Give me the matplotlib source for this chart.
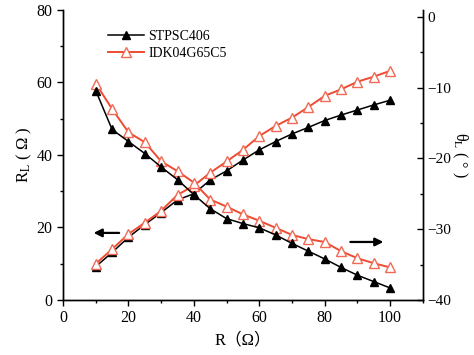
import matplotlib
matplotlib.use("Agg")
import matplotlib.pyplot as plt
from matplotlib.ticker import MultipleLocator

plt.rcParams["font.family"] = ["Liberation Serif", "Noto Sans CJK SC"]
plt.rcParams["mathtext.fontset"] = "stix"

# load resistance R (ohm)
r_vals = [10, 15, 20, 25, 30, 35, 40, 45, 50, 55, 60, 65, 70, 75, 80, 85, 90, 95, 100]

# RL (ohm), left axis
rl_stpsc = [9.2, 13.1, 17.3, 20.8, 24.1, 27.6, 29.3, 33.1, 35.6, 38.6, 41.4, 43.7, 45.8,
            47.6, 49.5, 51.0, 52.4, 53.8, 55.1]
rl_idk = [10.0, 14.0, 18.2, 21.3, 24.6, 29.0, 31.5, 35.1, 38.2, 41.4, 45.2, 48.0, 50.3,
          53.2, 56.3, 58.1, 60.2, 61.6, 63.2]

# thetaL (deg), right axis
th_stpsc = [-10.4, -15.9, -17.6, -19.3, -21.2, -23.0, -25.1, -27.1, -28.5, -29.2, -29.8,
            -30.8, -32.0, -33.1, -34.2, -35.4, -36.5, -37.4, -38.3]
th_idk = [-9.4, -13.0, -16.3, -17.7, -20.4, -21.8, -23.4, -25.8, -26.8, -27.9, -28.8,
          -29.8, -30.8, -31.4, -31.8, -33.1, -34.1, -34.8, -35.4]

RED = "#EE4B32"
RED_EDGE = "#F06A55"

fig = plt.figure(figsize=(4.74, 3.55), dpi=100)
ax1 = fig.add_axes([0.133, 0.155, 0.759, 0.817])
ax2 = ax1.twinx()

black_kw = dict(color="black", lw=1.1, marker="^", ms=6, mfc="black", mec="black")
red_kw = dict(color=RED, lw=1.4, marker="^", ms=6.5, mfc="white", mec=RED_EDGE, mew=1.0)

l1, = ax1.plot(r_vals, rl_stpsc, label="STPSC406", **black_kw)
l2, = ax1.plot(r_vals, rl_idk, label="IDK04G65C5", **red_kw)
ax2.plot(r_vals, th_idk, **red_kw)
ax2.plot(r_vals, th_stpsc, **black_kw)

ax1.set_xlim(0, 110)
ax1.set_ylim(0, 80)
ax2.set_ylim(-40, 1)

ax1.xaxis.set_major_locator(MultipleLocator(20))
ax1.xaxis.set_minor_locator(MultipleLocator(10))
ax1.yaxis.set_major_locator(MultipleLocator(20))
ax1.yaxis.set_minor_locator(MultipleLocator(10))
ax2.yaxis.set_major_locator(MultipleLocator(10))
ax2.yaxis.set_minor_locator(MultipleLocator(5))
ax1.set_xticks([0, 20, 40, 60, 80, 100])

for ax in (ax1, ax2):
    ax.spines["top"].set_visible(False)
    for s in ax.spines.values():
        s.set_linewidth(1.0)

ax1.tick_params(axis="both", which="major", direction="out", length=4, width=1, labelsize=11.5)
ax1.tick_params(axis="both", which="minor", direction="out", length=2.5, width=1)
ax2.tick_params(axis="y", which="major", direction="in", length=4, width=1, labelsize=11, pad=3)
ax2.tick_params(axis="y", which="minor", direction="in", length=2.5, width=1)

ax1.set_xlabel("R（Ω）", fontsize=12, labelpad=4)
ax1.set_ylabel("R$_\\mathrm{L}$ ( Ω )", fontsize=12, labelpad=2)
ax2.set_ylabel("θ$_\\mathrm{L}$ ( ° )", fontsize=11.5, rotation=270, labelpad=13)

# arrows pointing each pair of curves to its axis
ax1.annotate("", xy=(8.5, 18.5), xytext=(18.0, 18.5),
             arrowprops=dict(arrowstyle="-|>", color="black", lw=1.6, mutation_scale=12))
ax1.annotate("", xy=(98.8, 16.0), xytext=(87.0, 16.0),
             arrowprops=dict(arrowstyle="-|>", color="black", lw=1.6, mutation_scale=12))

ax1.legend(handles=[l1, l2], loc="upper left", bbox_to_anchor=(0.09, 0.975), frameon=False,
           fontsize=10, handlelength=2.6, handletextpad=0.3, labelspacing=0.3)

fig.savefig("out.png", dpi=100)
